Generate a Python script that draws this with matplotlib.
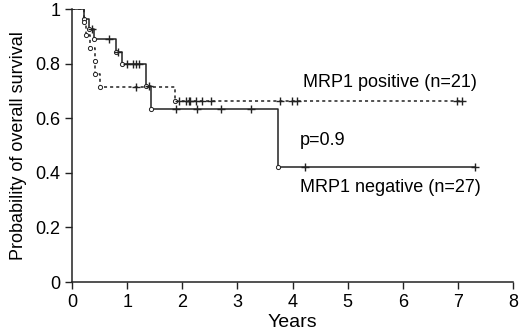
import numpy as np
import matplotlib
matplotlib.use('Agg')
import matplotlib.pyplot as plt

plt.rcParams['font.family'] = ['Liberation Sans', 'DejaVu Sans']

# MRP1 negative (solid)
neg_times = [0, 0.22, 0.30, 0.40, 0.80, 0.90, 1.34, 1.43, 3.74]
neg_surv = [1.0, 0.963, 0.926, 0.889, 0.843, 0.800, 0.718, 0.633, 0.422]
neg_censor = [0.36, 0.67, 0.84, 0.99, 1.10, 1.16, 1.22, 1.40, 1.88, 2.26, 2.70, 3.25, 4.22, 7.31]
neg_end = 7.31

# MRP1 positive (dotted)
pos_times = [0, 0.22, 0.25, 0.33, 0.41, 0.42, 0.51, 1.86]
pos_surv = [1.0, 0.952, 0.905, 0.857, 0.810, 0.762, 0.714, 0.663]
pos_censor = [1.16, 1.94, 2.06, 2.12, 2.14, 2.25, 2.35, 2.53, 3.77, 3.99, 4.08, 6.98, 7.07]
pos_end = 7.07


def level_at(times, surv, t):
    idx = np.searchsorted(times, t, side='right') - 1
    return np.array(surv)[idx]


fig = plt.figure(figsize=(5.2, 3.36), dpi=100)
ax = fig.add_axes([0.1385, 0.1607, 0.848, 0.8125])

for times, surv, end, cens, ls in [
        (neg_times, neg_surv, neg_end, neg_censor, '-'),
        (pos_times, pos_surv, pos_end, pos_censor, (0, (2, 2)))]:
    x = list(times) + [end]
    y = list(surv) + [surv[-1]]
    ax.step(x, y, where='post', color='#222222', lw=1.1, linestyle=ls)
    # open circles at events
    ax.plot(times[1:], surv[1:], 'o', ms=3, mfc='white', mec='#222222', mew=0.7,
            linestyle='none')
    # censor marks
    ax.plot(cens, level_at(times, surv, cens), '+', ms=6, color='#222222',
            mew=1.0, linestyle='none')

ax.text(4.19, 0.729, 'MRP1 positive (n=21)', fontsize=13, va='center', ha='left')
ax.text(4.14, 0.52, 'p=0.9', fontsize=13, va='center', ha='left')
ax.text(4.14, 0.348, 'MRP1 negative (n=27)', fontsize=13, va='center', ha='left')

ax.set_xlim(0, 8)
ax.set_ylim(0, 1)
ax.set_xticks(range(0, 9))
ax.set_yticks([0, 0.2, 0.4, 0.6, 0.8, 1])
ax.set_yticklabels(['0', '0.2', '0.4', '0.6', '0.8', '1'])
ax.tick_params(labelsize=13, direction='out', length=5, width=1, color='#222222')
ax.spines['top'].set_visible(False)
ax.spines['right'].set_visible(False)
for s in ['left', 'bottom']:
    ax.spines[s].set_linewidth(1.1)
    ax.spines[s].set_color('#222222')
ax.set_xlabel('Years', fontsize=14, labelpad=2)
ax.set_ylabel('Probability of overall survival', fontsize=13, labelpad=6)

fig.savefig('out.png', dpi=100)
